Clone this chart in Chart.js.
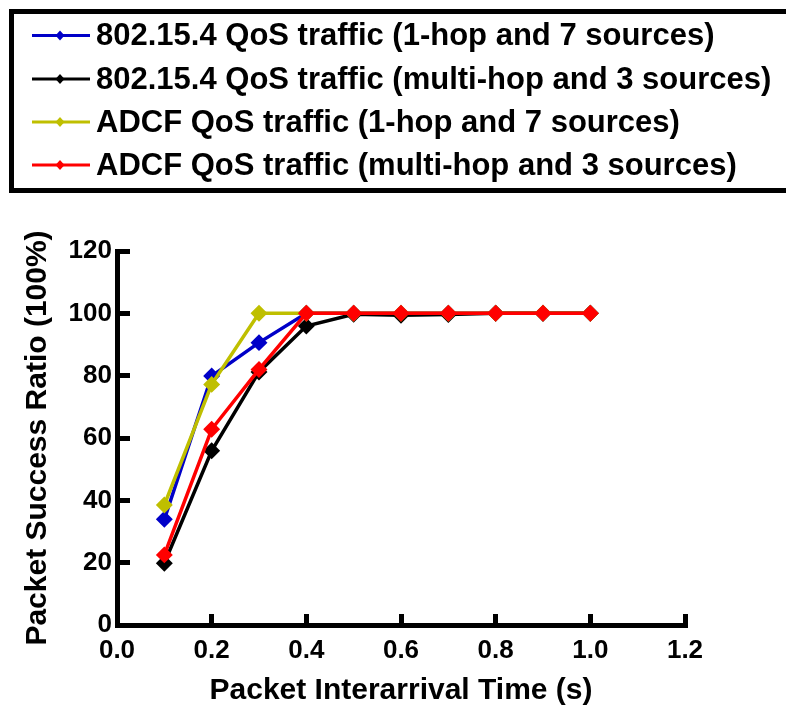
<!DOCTYPE html>
<html>
<head>
<meta charset="utf-8">
<script src="https://cdn.jsdelivr.net/npm/chart.js@4"></script>
<style>
  html, body { margin: 0; padding: 0; background: #fff; }
  #wrap { width: 786px; height: 706px; }
</style>
</head>
<body>
<div id="wrap"><canvas id="chart" width="786" height="706"></canvas></div>
<script>
// interarrival times (s)
const times = [0.1, 0.2, 0.3, 0.4, 0.5, 0.6, 0.7, 0.8, 0.9, 1.0];

// packet success ratio (%)
const qos1hop   = [33.9, 79.9, 90.6, 100, 100, 100, 100, 100, 100, 100];
const qosMulti  = [19.8, 55.9, 81.2, 95.9, 99.7, 99.4, 99.6, 100, 100, 100];
const adcf1hop  = [38.5, 77.2, 100, 100, 100, 100, 100, 100, 100, 100];
const adcfMulti = [22.5, 62.8, 82.0, 100, 100, 100, 100, 100, 100, 100];

const seriesLabels = [
  '802.15.4 QoS traffic (1-hop and 7 sources)',
  '802.15.4 QoS traffic (multi-hop and 3 sources)',
  'ADCF QoS traffic (1-hop and 7 sources)',
  'ADCF QoS traffic (multi-hop and 3 sources)'
];
const seriesColors = ['#0000c8', '#000000', '#bfbf00', '#ff0000'];
const seriesValues = [qos1hop, qosMulti, adcf1hop, adcfMulti];

const xTicks = [0.0, 0.2, 0.4, 0.6, 0.8, 1.0, 1.2];
const yTicks = [0, 20, 40, 60, 80, 100, 120];

const FONT = "'Liberation Sans', Arial, Helvetica, sans-serif";

// boxed legend at the top, drawn by hand
const boxLegend = {
  id: 'boxLegend',
  afterDraw(chart) {
    const ctx = chart.ctx;
    ctx.save();
    ctx.lineWidth = 5;
    ctx.strokeStyle = '#000';
    ctx.strokeRect(11.5, 11.5, 800, 179);
    const rows = [35.5, 79, 122, 165];
    seriesLabels.forEach((label, i) => {
      const y = rows[i];
      const col = seriesColors[i];
      ctx.strokeStyle = col;
      ctx.lineWidth = 3;
      ctx.beginPath();
      ctx.moveTo(32, y);
      ctx.lineTo(90, y);
      ctx.stroke();
      ctx.fillStyle = col;
      ctx.beginPath();
      ctx.moveTo(60, y - 5);
      ctx.lineTo(64.5, y);
      ctx.lineTo(60, y + 5);
      ctx.lineTo(55.5, y);
      ctx.closePath();
      ctx.fill();
      ctx.fillStyle = '#000';
      ctx.font = 'bold 31px ' + FONT;
      ctx.textBaseline = 'middle';
      ctx.textAlign = 'left';
      ctx.fillText(label, 96, y + 1);
    });
    ctx.restore();
  }
};

// red drawn last (on top), blue first
const datasets = seriesValues.map((vals, i) => ({
  label: seriesLabels[i],
  data: times.map((t, j) => ({ x: t, y: vals[j] })),
  borderColor: seriesColors[i],
  backgroundColor: seriesColors[i],
  borderWidth: 3.5,
  pointStyle: 'rectRot',
  pointRadius: 6,
  pointHoverRadius: 6,
  tension: 0,
  clip: false,
  order: seriesValues.length - i
}));

new Chart(document.getElementById('chart'), {
  type: 'line',
  data: { datasets: datasets },
  plugins: [boxLegend],
  options: {
    responsive: false,
    animation: false,
    layout: { padding: { top: 251, right: 101, left: 0, bottom: 0 } },
    plugins: { legend: { display: false }, tooltip: { enabled: false } },
    scales: {
      x: {
        type: 'linear',
        min: 0, max: 1.2,
        afterBuildTicks: s => { s.ticks = xTicks.map(v => ({ value: v })); },
        afterFit: s => { s.height = 81; },
        border: { display: true, color: '#000', width: 5 },
        // negative tick length: ticks point into the plot
        grid: { drawOnChartArea: false, drawTicks: true, tickLength: -11, tickWidth: 5, tickColor: '#000' },
        ticks: {
          color: '#000', padding: 24, maxRotation: 0,
          font: { family: FONT, size: 26, weight: 'bold', lineHeight: 1 },
          callback: v => Number(v).toFixed(1)
        },
        title: {
          display: true, text: 'Packet Interarrival Time (s)', color: '#000',
          font: { family: FONT, size: 30, weight: 'bold', lineHeight: 1 },
          padding: { top: 1, bottom: 0 }
        }
      },
      y: {
        type: 'linear',
        min: 0, max: 120,
        afterBuildTicks: s => { s.ticks = yTicks.map(v => ({ value: v })); },
        afterFit: s => { s.width = 117; },
        border: { display: true, color: '#000', width: 5 },
        grid: { drawOnChartArea: false, drawTicks: true, tickLength: -13, tickWidth: 5, tickColor: '#000' },
        ticks: {
          color: '#000', padding: 18,
          font: { family: FONT, size: 26, weight: 'bold', lineHeight: 1 }
        },
        title: {
          display: true, text: 'Packet Success Ratio (100%)', color: '#000',
          font: { family: FONT, size: 30, weight: 'bold', lineHeight: 1 },
          padding: { top: 23, bottom: 0 }
        }
      }
    }
  }
});
</script>
</body>
</html>
